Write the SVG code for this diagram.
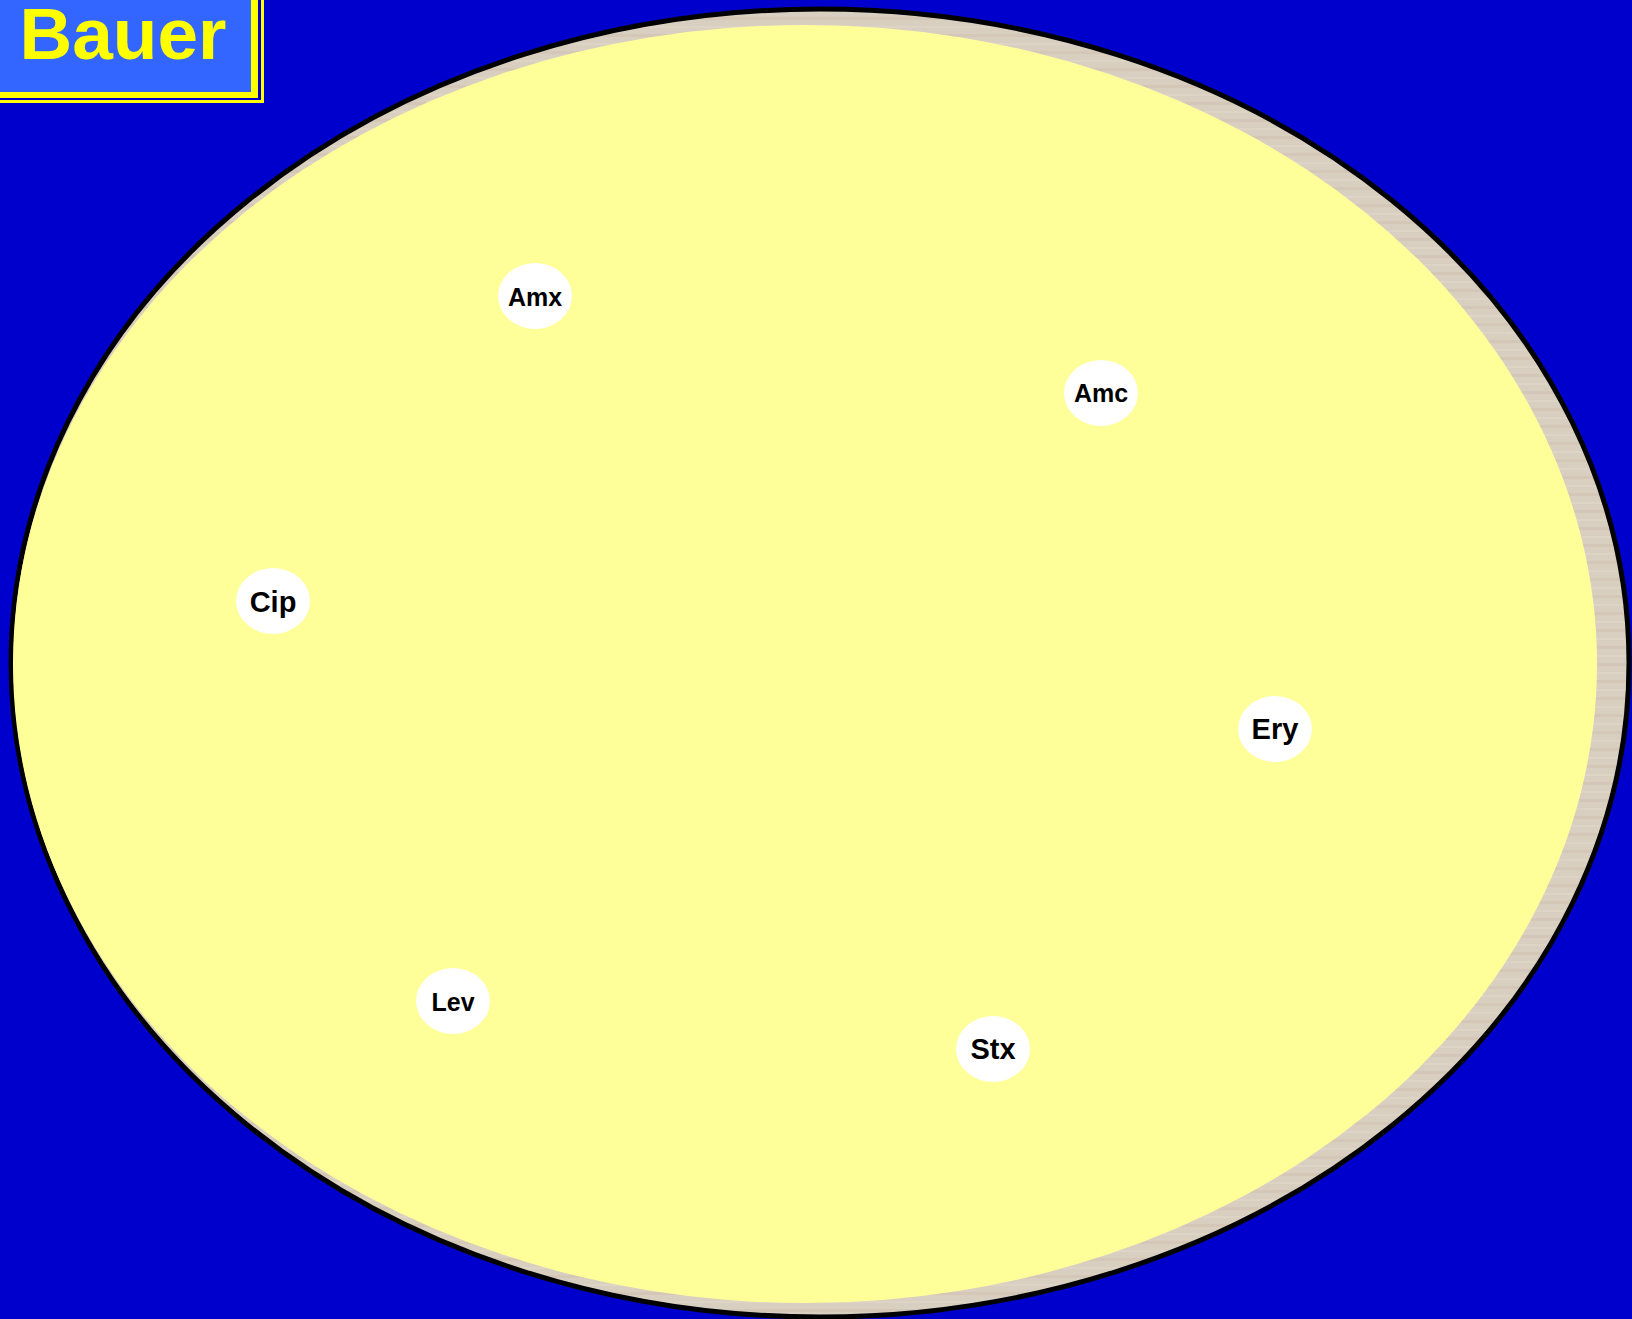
<svg xmlns="http://www.w3.org/2000/svg" width="1632" height="1319" viewBox="0 0 1632 1319">
  <style>
    .node ellipse { fill: #ffffff; stroke: none; }
    .node text { font-family: "Liberation Sans", Arial, sans-serif; font-weight: bold; fill: #000000; text-anchor: middle; }
    .sm { font-size: 25px; }
    .lg { font-size: 29px; }
  </style>
  <defs>
    <pattern id="wood" width="40" height="17" patternUnits="userSpaceOnUse">
      <rect width="40" height="17" fill="#d9cfc0"/>
      <rect y="0" width="40" height="3" fill="#d4c7b8"/>
      <rect y="9" width="40" height="2" fill="#ddd4c5"/>
    </pattern>
  </defs>
  <rect width="1632" height="1319" fill="#0000cc"/>
  <g id="board">
    <ellipse cx="820" cy="663" rx="809" ry="654" fill="url(#wood)" stroke="#000000" stroke-width="5"/>
    <ellipse cx="805" cy="664" rx="792" ry="639" fill="#ffff99"/>
  </g>
  <g id="title">
    <rect x="0" y="0" width="264" height="103" fill="#ffff00"/>
    <rect x="0" y="0" width="261" height="100" fill="#0000cc"/>
    <rect x="0" y="0" width="258" height="98" fill="#ffff00"/>
    <rect x="0" y="0" width="251" height="92" fill="#3366ff"/>
    <text x="123" y="59" font-family="'Liberation Sans', Arial, sans-serif" font-weight="bold" font-size="73" fill="#ffff00" text-anchor="middle">Bauer</text>
  </g>
  <g id="connectors"></g>
  <g id="node-amx" class="node"><ellipse cx="535" cy="296" rx="37" ry="33"/><text class="sm" x="535" y="306">Amx</text></g>
  <g id="node-amc" class="node"><ellipse cx="1101" cy="393" rx="37" ry="33"/><text class="sm" x="1101" y="402">Amc</text></g>
  <g id="node-cip" class="node"><ellipse cx="273" cy="601" rx="37" ry="33"/><text class="lg" x="273" y="612">Cip</text></g>
  <g id="node-ery" class="node"><ellipse cx="1275" cy="729" rx="37" ry="33"/><text class="lg" x="1275" y="739">Ery</text></g>
  <g id="node-lev" class="node"><ellipse cx="453" cy="1001" rx="37" ry="33"/><text class="sm" x="453" y="1011">Lev</text></g>
  <g id="node-stx" class="node"><ellipse cx="993" cy="1049" rx="37" ry="33"/><text class="lg" x="993" y="1059">Stx</text></g>
</svg>
